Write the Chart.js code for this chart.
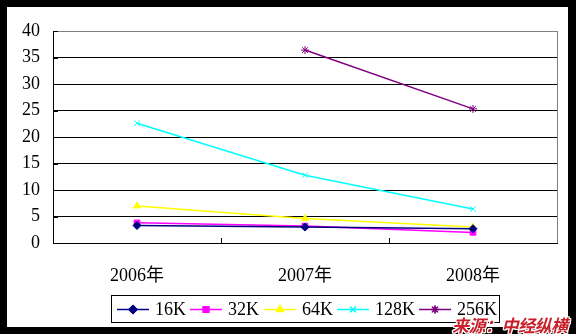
<!DOCTYPE html>
<html>
<head>
<meta charset="utf-8">
<script src="https://cdn.jsdelivr.net/npm/chart.js@4/dist/chart.umd.min.js"></script>
<style>
  html, body { margin: 0; padding: 0; background: #000; }
  #wrap { position: relative; width: 576px; height: 334px; }
  #source {
    position: absolute; left: 452px; top: 312px;
    font: italic bold 17px "Noto Sans CJK SC", sans-serif;
    color: #c8202a; white-space: nowrap; letter-spacing: -0.5px;
    text-shadow: -1px -1px 0 #fff, 1px -1px 0 #fff, -1px 1px 0 #fff, 1px 1px 0 #fff,
                 0 1px 0 #fff, 0 -1px 0 #fff, 1px 0 0 #fff, -1px 0 0 #fff;
  }
</style>
</head>
<body>
<div id="wrap">
  <canvas id="chart" width="576" height="334"></canvas>
  <div id="source">来源：中经纵横</div>
</div>
<script>
// 數據
const years = ['2006年', '2007年', '2008年'];
const seriesNames = ['16K', '32K', '64K', '128K', '256K'];
const k16 = [3.3, 3.0, 2.7];
const k32 = [3.8, 3.2, 2.0];
const k64 = [7.0, 4.6, 3.0];
const k128 = [22.6, 12.8, 6.4];
const k256 = [null, 36.4, 25.3];
const yTicks = [0, 5, 10, 15, 20, 25, 30, 35, 40];

const colors = ['#000080', '#ff00ff', '#ffff00', '#00ffff', '#800080'];
const markers = ['rectRot', 'rect', 'triangle', 'crossRot', 'star'];
const FONT = '"Liberation Serif", "Noto Sans CJK SC", serif';

const frame = {
  id: 'frame',
  beforeDraw(chart) {
    const c = chart.ctx;
    c.save();
    c.fillStyle = '#000';
    c.fillRect(0, 0, chart.width, chart.height);
    c.fillStyle = '#fff';
    c.fillRect(7, 7, 561, 320);
    c.restore();
  },
  beforeDatasetsDraw(chart) {
    const c = chart.ctx;
    const a = chart.chartArea;
    const x = chart.scales.x;
    c.save();
    c.lineWidth = 1;
    c.strokeStyle = '#808080';
    c.beginPath();
    c.moveTo(Math.round(a.right) + 0.5, a.top);
    c.lineTo(Math.round(a.right) + 0.5, a.bottom);
    c.stroke();
    // 內側刻度
    c.strokeStyle = '#000';
    c.beginPath();
    const step = (a.right - a.left) / years.length;
    for (let i = 1; i < years.length; i++) {
      const px = Math.round(a.left + step * i) + 0.5;
      c.moveTo(px, a.bottom - 5);
      c.lineTo(px, a.bottom);
    }
    const y = chart.scales.y;
    yTicks.forEach(v => {
      const py = Math.round(y.getPixelForValue(v)) + 0.5;
      c.moveTo(a.left, py);
      c.lineTo(a.left + 5, py);
    });
    c.stroke();
    c.restore();
  },
  afterDraw(chart) {
    // 圖例
    const c = chart.ctx;
    c.save();
    c.lineWidth = 1;
    c.strokeStyle = '#000';
    c.strokeRect(111.5, 295.5, 388, 27);
    const lineStarts = [117, 190, 264, 337, 419];
    c.font = '18px ' + FONT;
    c.textBaseline = 'middle';
    chart.data.datasets.forEach((ds, i) => {
      const x0 = lineStarts[i];
      const cy = 309.5;
      c.strokeStyle = ds.borderColor;
      c.lineWidth = 1.5;
      c.beginPath();
      c.moveTo(x0, cy);
      c.lineTo(x0 + 32, cy);
      c.stroke();
      Chart.helpers.drawPoint(c, {
        pointStyle: ds.pointStyle, radius: 4, rotation: 0, borderWidth: 1
      }, x0 + 16, cy);
      c.fillStyle = ds.borderColor;
      c.strokeStyle = ds.borderColor;
      c.lineWidth = 1;
      Chart.helpers.drawPoint(c, {
        pointStyle: ds.pointStyle, radius: 4, rotation: 0, borderWidth: 1
      }, x0 + 16, cy);
      c.fillStyle = '#000';
      c.fillText(ds.label, x0 + 38, cy + 1);
    });
    c.restore();
  }
};

const seriesData = [k16, k32, k64, k128, k256];

new Chart(document.getElementById('chart'), {
  type: 'line',
  data: {
    labels: years,
    datasets: seriesData.map((d, i) => ({
      label: seriesNames[i],
      data: d,
      borderColor: colors[i],
      backgroundColor: colors[i],
      borderWidth: 1.5,
      pointStyle: markers[i],
      pointRadius: 4,
      pointBorderWidth: 1,
      tension: 0,
      fill: false
    }))
  },
  options: {
    responsive: false,
    animation: false,
    events: [],
    layout: { padding: { left: 0, top: 31, right: 19, bottom: 51 } },
    plugins: { legend: { display: false }, tooltip: { enabled: false } },
    scales: {
      x: {
        type: 'category',
        offset: true,
        grid: { display: false },
        border: { display: true, color: '#000', width: 1 },
        ticks: { color: '#000', font: { family: FONT, size: 18 }, padding: 14, maxRotation: 0 },
        afterFit(s) { s.height = 40; }
      },
      y: {
        min: 0,
        max: 40,
        afterBuildTicks(s) { s.ticks = yTicks.map(v => ({ value: v })); },
        grid: {
          color: ctx => ctx.tick && ctx.tick.value === 40 ? '#808080' : '#000',
          lineWidth: 1,
          drawTicks: false
        },
        border: { display: true, color: '#000', width: 1 },
        ticks: { color: '#000', font: { family: FONT, size: 18 }, padding: 13 },
        afterFit(s) { s.width = 53; }
      }
    }
  },
  plugins: [frame]
});
</script>
</body>
</html>
